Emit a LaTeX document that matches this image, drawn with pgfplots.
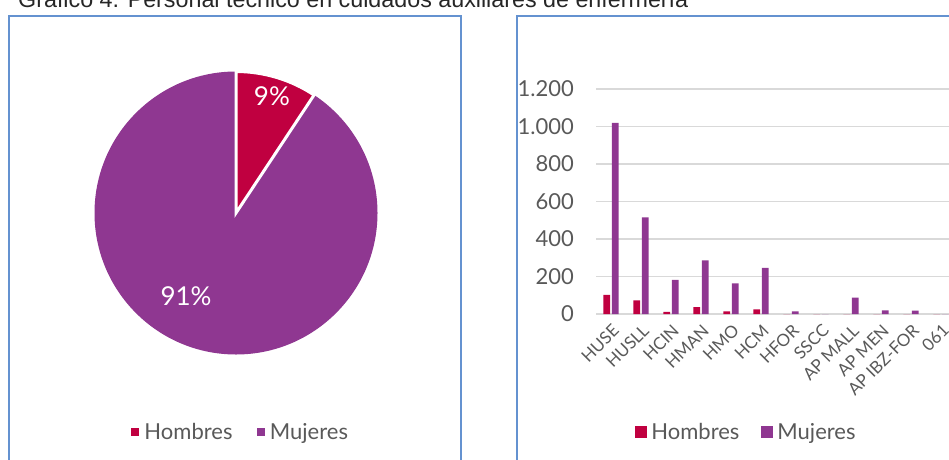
\documentclass[border=0pt]{standalone}
\usepackage{pgfplots}
\pgfplotsset{compat=1.18}
\usepackage{pgfplotstable}
\usepackage{fontspec}
\setmainfont{Lato}
\newfontfamily\titlefont{Liberation Sans}
\definecolor{hcol}{RGB}{192,0,64}
\definecolor{mcol}{RGB}{143,55,145}
\definecolor{txt}{RGB}{89,89,89}
\definecolor{gridc}{RGB}{217,217,217}
\definecolor{framec}{RGB}{100,146,208}

\pgfplotstableread{
x cat h m
0 HUSE 102 1020
1 HUSLL 73 516
2 HCIN 11 182
3 HMAN 37 286
4 HMO 14 164
5 HCM 25 246
6 HFOR 0 14
7 SSCC 0 0
8 APMALL 0 88
9 APMEN 0 20
10 APIBZFOR 0 18
11 061 0 0
}\bardata

\pgfplotstableread{
sexo total
Hombres 262
Mujeres 2554
}\piedata

\begin{document}%
\pgfplotstablegetelem{0}{total}\of\piedata\let\valH\pgfplotsretval%
\pgfplotstablegetelem{1}{total}\of\piedata\let\valM\pgfplotsretval%
\pgfmathsetmacro\hfrac{\valH/(\valH+\valM)}%
\pgfmathsetmacro\hombresangle{360*\hfrac}%
\begin{tikzpicture}
\useasboundingbox (0pt,0pt) rectangle (949pt,459pt);
\clip (0pt,0pt) rectangle (949pt,459pt);
% title (cropped in the reference)
\node[anchor=base west, inner sep=0, text=black!85] at (18pt,451pt)
  {\resizebox{670pt}{!}{\titlefont\fontsize{22}{26}\selectfont Gráfico 4. Personal técnico en cuidados auxiliares de enfermería}};
% panel frames
\draw[framec, line width=2pt] (9pt,-10pt) |- (461pt,443pt) -- (461pt,-10pt);
\draw[framec, line width=2pt] (517pt,-10pt) |- (970pt,443pt);

% ---------- pie ----------
\begin{axis}[at={(236pt,246pt)}, anchor=center, scale only axis,
  width=283pt, height=283pt, xmin=-1, xmax=1, ymin=-1, ymax=1,
  hide axis, clip=false,
  legend columns=2,
  legend style={at={(0.516,-0.274)}, anchor=center, draw=none, fill=none,
    font=\fontsize{22}{26}\selectfont, text=txt,
    /tikz/every odd column/.append style={column sep=4pt},
    /tikz/every even column/.append style={column sep=22pt}},
  ]
\addlegendimage{legend image code/.code={\fill[hcol] (0pt,-3.5pt) rectangle (7pt,3.5pt);}}
\addlegendentry{Hombres}
\addlegendimage{legend image code/.code={\fill[mcol] (0pt,-3.5pt) rectangle (7pt,3.5pt);}}
\addlegendentry{Mujeres}
\fill[mcol] (axis cs:0,0) circle[radius=141.5pt];
\filldraw[fill=hcol, draw=white, line width=3pt]
  (axis cs:0,0) -- ++(90:141.5pt) arc[start angle=90, end angle={90-\hombresangle}, radius=141.5pt] -- cycle;
\node[text=white, font=\fontsize{26}{30}\selectfont] at (axis cs:0.254,0.827) {9\%};
\node[text=white, font=\fontsize{26}{30}\selectfont] at (axis cs:-0.353,-0.587) {91\%};
\end{axis}

% ---------- bars ----------
\begin{axis}[at={(596pt,145pt)}, anchor=south west, scale only axis,
  width=360pt, height=225pt,
  xmin=-0.5, xmax=11.5, ymin=0, ymax=1200,
  ytick={0,200,...,1200},
  xtick={0,...,11},
  xticklabels={HUSE,HUSLL,HCIN,HMAN,HMO,HCM,HFOR,SSCC,AP MALL,AP MEN,AP IBZ-FOR,061},
  major tick length=0pt,
  axis lines*=left,
  y axis line style={draw=none},
  x axis line style={draw=gridc, line width=1.5pt},
  ymajorgrids, grid style={draw=gridc, line width=1.5pt},
  /pgf/number format/assume math mode=true,
  /pgf/number format/1000 sep={.},
  y tick label style={anchor=east, inner sep=0pt, xshift=-22pt, text=txt,
    font=\fontsize{22}{26}\selectfont},
  x tick label style={rotate=45, anchor=east, inner sep=0pt, yshift=-13pt, xshift=-6pt,
    text=txt, font=\fontsize{17}{20}\selectfont},
  legend columns=2,
  legend style={at={(0.418,-0.524)}, anchor=center, draw=none, fill=none,
    font=\fontsize{22}{26}\selectfont, text=txt,
    /tikz/every odd column/.append style={column sep=2pt},
    /tikz/every even column/.append style={column sep=20pt}},
  ]
\addplot[ybar, bar width=6.7pt, bar shift=-4.2pt, fill=hcol, draw=none,
  legend image code/.code={\fill[hcol] (0pt,-6pt) rectangle (12pt,6pt);}]
  table[x=x, y=h] {\bardata};
\addlegendentry{Hombres}
\addplot[ybar, bar width=6.7pt, bar shift=4.2pt, fill=mcol, draw=none,
  legend image code/.code={\fill[mcol] (0pt,-6pt) rectangle (12pt,6pt);}]
  table[x=x, y=m] {\bardata};
\addlegendentry{Mujeres}
\end{axis}
\end{tikzpicture}%
\end{document}
